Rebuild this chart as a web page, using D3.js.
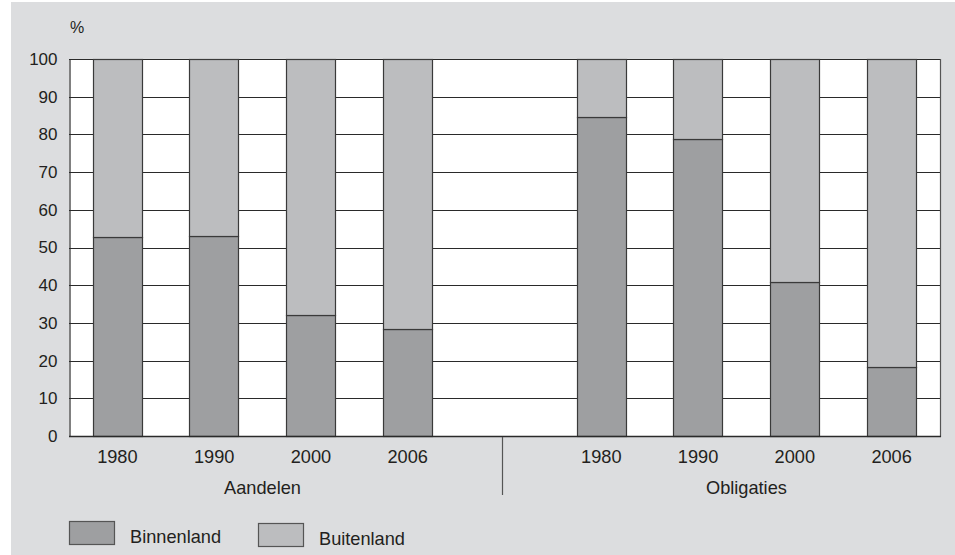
<!DOCTYPE html>
<html>
<head>
<meta charset="utf-8">
<script src="https://cdn.jsdelivr.net/npm/d3@7"></script>
<style>
  html, body { margin: 0; padding: 0; background: #ffffff; }
  svg { display: block; font-family: "Liberation Sans", Arial, sans-serif; }
</style>
</head>
<body>
<svg id="chart" width="955" height="555"></svg>
<script>
// Beleggingen naar herkomst, in procenten
const groups = ["Aandelen", "Obligaties"];
const years = ["1980", "1990", "2000", "2006"];
const binnenland = {
  Aandelen:   [52.7, 53.0, 32.0, 28.4],
  Obligaties: [84.6, 78.9, 40.8, 18.3]
};
const buitenland = {
  Aandelen:   [47.3, 47.0, 68.0, 71.6],
  Obligaties: [15.4, 21.1, 59.2, 81.7]
};
const yTicks = [0, 10, 20, 30, 40, 50, 60, 70, 80, 90, 100];
const seriesNames = ["Binnenland", "Buitenland"];
const seriesColors = ["#9e9fa1", "#bcbdbf"];

const svg = d3.select("#chart");
const ink = "#231f20";
const fontSize = 18.2;
const tickFontSize = 17;

// grey panel
svg.append("rect").attr("x", 11).attr("y", 2).attr("width", 944).attr("height", 553)
  .attr("fill", "#dcdddf");

const plot = { left: 69, right: 940, top: 59, bottom: 436 };

// slots: four years per group with an empty slot in between
const slots = [];
groups.forEach((g, gi) => {
  if (gi > 0) slots.push("gap" + gi);
  years.forEach(y => slots.push(g + "|" + y));
});

const x = d3.scaleBand().domain(slots).range([plot.left, plot.right])
  .paddingInner(0.49).paddingOuter(0.245);
const y = d3.scaleLinear().domain([0, 100]).range([plot.bottom, plot.top]);

// white plotting area
svg.append("rect").attr("x", plot.left).attr("y", plot.top)
  .attr("width", plot.right - plot.left).attr("height", plot.bottom - plot.top)
  .attr("fill", "#ffffff");

// horizontal grid lines
svg.append("g").selectAll("line").data(yTicks).join("line")
  .attr("x1", plot.left).attr("x2", plot.right)
  .attr("y1", d => Math.round(y(d)) + 0.5).attr("y2", d => Math.round(y(d)) + 0.5)
  .attr("stroke", "#2a2a2a").attr("stroke-width", 1.2);

// right border
svg.append("line").attr("x1", plot.right + 0.5).attr("x2", plot.right + 0.5)
  .attr("y1", plot.top).attr("y2", plot.bottom + 1)
  .attr("stroke", "#555").attr("stroke-width", 1.2);

// stacked bars
const barData = [];
groups.forEach(g => {
  years.forEach((yr, i) => {
    const b = binnenland[g][i];
    const u = buitenland[g][i];
    barData.push({ key: g + "|" + yr, s: 0, y0: 0, y1: b });
    barData.push({ key: g + "|" + yr, s: 1, y0: b, y1: b + u });
  });
});

svg.append("g").selectAll("rect").data(barData).join("rect")
  .attr("x", d => Math.round(x(d.key)) + 0.5)
  .attr("width", Math.round(x.bandwidth()))
  .attr("y", d => Math.round(y(d.y1)) + 0.5)
  .attr("height", d => Math.round(y(d.y0)) - Math.round(y(d.y1)))
  .attr("fill", d => seriesColors[d.s])
  .attr("stroke", "#3a3a3a").attr("stroke-width", 1.2);

// y axis (line only, labels to the left)
const yAxis = d3.axisLeft(y).tickValues(yTicks).tickSize(0).tickPadding(12);
const yg = svg.append("g").attr("transform", `translate(${plot.left + 0.5},0)`).call(yAxis);
yg.select(".domain").attr("stroke", "#2a2a2a").attr("stroke-width", 1.2);
yg.selectAll("text").attr("font-size", tickFontSize).attr("fill", ink)
  .attr("font-family", "Liberation Sans, Arial, sans-serif");

// x axis baseline
svg.append("line").attr("x1", plot.left).attr("x2", plot.right + 1)
  .attr("y1", plot.bottom + 0.5).attr("y2", plot.bottom + 0.5)
  .attr("stroke", "#2a2a2a").attr("stroke-width", 1.4);

// unit label
svg.append("text").attr("x", 70).attr("y", 33).text("%")
  .attr("font-size", 16).attr("fill", ink);

// year labels
const xg = svg.append("g");
groups.forEach(g => {
  years.forEach(yr => {
    const k = g + "|" + yr;
    xg.append("text").attr("x", x(k) + x.bandwidth() / 2).attr("y", 463)
      .attr("text-anchor", "middle").attr("font-size", fontSize).attr("fill", ink)
      .text(yr);
  });
  // group label centred under its bars
  const first = x(g + "|" + years[0]) + x.bandwidth() / 2;
  const last = x(g + "|" + years[years.length - 1]) + x.bandwidth() / 2;
  xg.append("text").attr("x", (first + last) / 2).attr("y", 494)
    .attr("text-anchor", "middle").attr("font-size", fontSize).attr("fill", ink)
    .text(g);
});

// divider between groups
const gapX = Math.round(x("gap1") + x.bandwidth() / 2) - 2.5;
svg.append("line").attr("x1", gapX).attr("x2", gapX)
  .attr("y1", plot.bottom + 1).attr("y2", 495)
  .attr("stroke", "#555").attr("stroke-width", 1.2);

// legend
const legendItems = [
  { name: seriesNames[0], color: seriesColors[0], x: 69, y: 521 },
  { name: seriesNames[1], color: seriesColors[1], x: 258, y: 523 }
];
const lg = svg.append("g");
legendItems.forEach(it => {
  lg.append("rect").attr("x", it.x + 0.5).attr("y", it.y + 0.5)
    .attr("width", 45).attr("height", 23)
    .attr("fill", it.color).attr("stroke", "#555").attr("stroke-width", 1.2);
  lg.append("text").attr("x", it.x + 61).attr("y", it.y + 22)
    .attr("font-size", fontSize).attr("fill", ink).text(it.name);
});
</script>
</body>
</html>
